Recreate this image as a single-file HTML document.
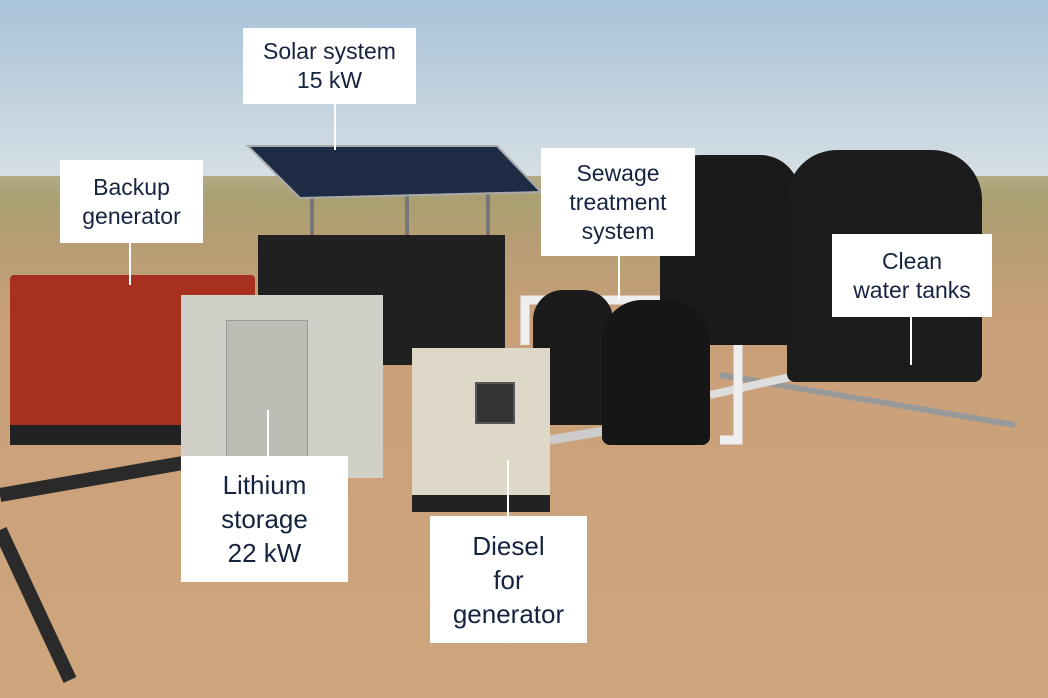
<!DOCTYPE html>
<html><head><meta charset="utf-8"><style>
body{margin:0;width:1048px;height:698px;overflow:hidden;position:relative;font-family:"Liberation Sans",sans-serif}
.a{position:absolute}
.lbl{position:absolute;background:#fff;color:#16233f;font-size:23px;line-height:29px;text-align:center;display:flex;align-items:center;justify-content:center}
.ln{position:absolute;width:2px;background:#fff}
</style></head><body>
<div class="a" style="left:0;top:0;width:1048px;height:180px;background:linear-gradient(#a9c3d9,#d6dfe4)"></div>
<div class="a" style="left:0;top:176px;width:1048px;height:522px;background:linear-gradient(#b3ab86 0px,#a9a073 20px,#b89d74 70px,#c9a079 150px,#cea67d 522px)"></div>
<svg class="a" style="left:0;top:0" width="1048" height="698">
<line x1="312" y1="190" x2="312" y2="240" stroke="#777" stroke-width="4"/>
<line x1="407" y1="190" x2="407" y2="240" stroke="#777" stroke-width="4"/>
<line x1="488" y1="190" x2="488" y2="240" stroke="#777" stroke-width="4"/>
<polygon points="248,146 497,146 541,192 300,198" fill="#1d2b45" stroke="#aaa" stroke-width="2"/>
<line x1="0" y1="495" x2="200" y2="460" stroke="#2a2a2a" stroke-width="14"/>
<line x1="0" y1="530" x2="70" y2="680" stroke="#2a2a2a" stroke-width="14"/>
<line x1="720" y1="375" x2="1015" y2="425" stroke="#999" stroke-width="6"/>
<line x1="710" y1="395" x2="830" y2="368" stroke="#ddd" stroke-width="8"/>
<path d="M525,345 V300 H700" stroke="#eee" stroke-width="9" fill="none"/>
<path d="M705,325 H738 V440 H720" stroke="#eee" stroke-width="9" fill="none"/>
<line x1="550" y1="440" x2="610" y2="430" stroke="#ccc" stroke-width="9"/>
</svg>
<div class="a" style="left:660px;top:155px;width:140px;height:190px;background:#1a1a1a;border-radius:40px 40px 6px 6px"></div>
<div class="a" style="left:787px;top:150px;width:195px;height:232px;background:#1c1c1c;border-radius:50px 50px 8px 8px"></div>
<div class="a" style="left:258px;top:235px;width:247px;height:130px;background:#202020"></div>
<div class="a" style="left:10px;top:275px;width:245px;height:170px;background:#a8301f;border-radius:4px"></div>
<div class="a" style="left:10px;top:425px;width:245px;height:20px;background:#222"></div>
<div class="a" style="left:181px;top:295px;width:202px;height:183px;background:#d0d0c8"></div>
<div class="a" style="left:226px;top:320px;width:80px;height:150px;background:#bdbdb5;border:1px solid #999"></div>
<div class="a" style="left:533px;top:290px;width:80px;height:135px;background:#1b1b1b;border-radius:30px 30px 6px 6px"></div>
<div class="a" style="left:602px;top:300px;width:108px;height:145px;background:#161616;border-radius:40px 40px 8px 8px"></div>
<div class="a" style="left:412px;top:348px;width:138px;height:164px;background:#ddd8c8"></div>
<div class="a" style="left:412px;top:495px;width:138px;height:17px;background:#222"></div>
<div class="a" style="left:475px;top:382px;width:36px;height:38px;background:#333;border:2px solid #555"></div>
<div class="ln" style="left:334px;top:104px;height:46px"></div>
<div class="lbl" style="left:243px;top:28px;width:173px;height:76px">Solar system<br>15 kW</div>
<div class="ln" style="left:129px;top:243px;height:42px"></div>
<div class="lbl" style="left:60px;top:160px;width:143px;height:83px">Backup<br>generator</div>
<div class="ln" style="left:618px;top:256px;height:44px"></div>
<div class="lbl" style="left:541px;top:148px;width:154px;height:108px">Sewage<br>treatment<br>system</div>
<div class="ln" style="left:910px;top:317px;height:48px"></div>
<div class="lbl" style="left:832px;top:234px;width:160px;height:83px">Clean<br>water tanks</div>
<div class="ln" style="left:267px;top:410px;height:46px"></div>
<div class="lbl" style="left:181px;top:456px;width:167px;height:126px;font-size:26px;line-height:34px">Lithium<br>storage<br>22 kW</div>
<div class="ln" style="left:507px;top:460px;height:56px"></div>
<div class="lbl" style="left:430px;top:516px;width:157px;height:127px;font-size:26px;line-height:34px">Diesel<br>for<br>generator</div>
</body></html>
